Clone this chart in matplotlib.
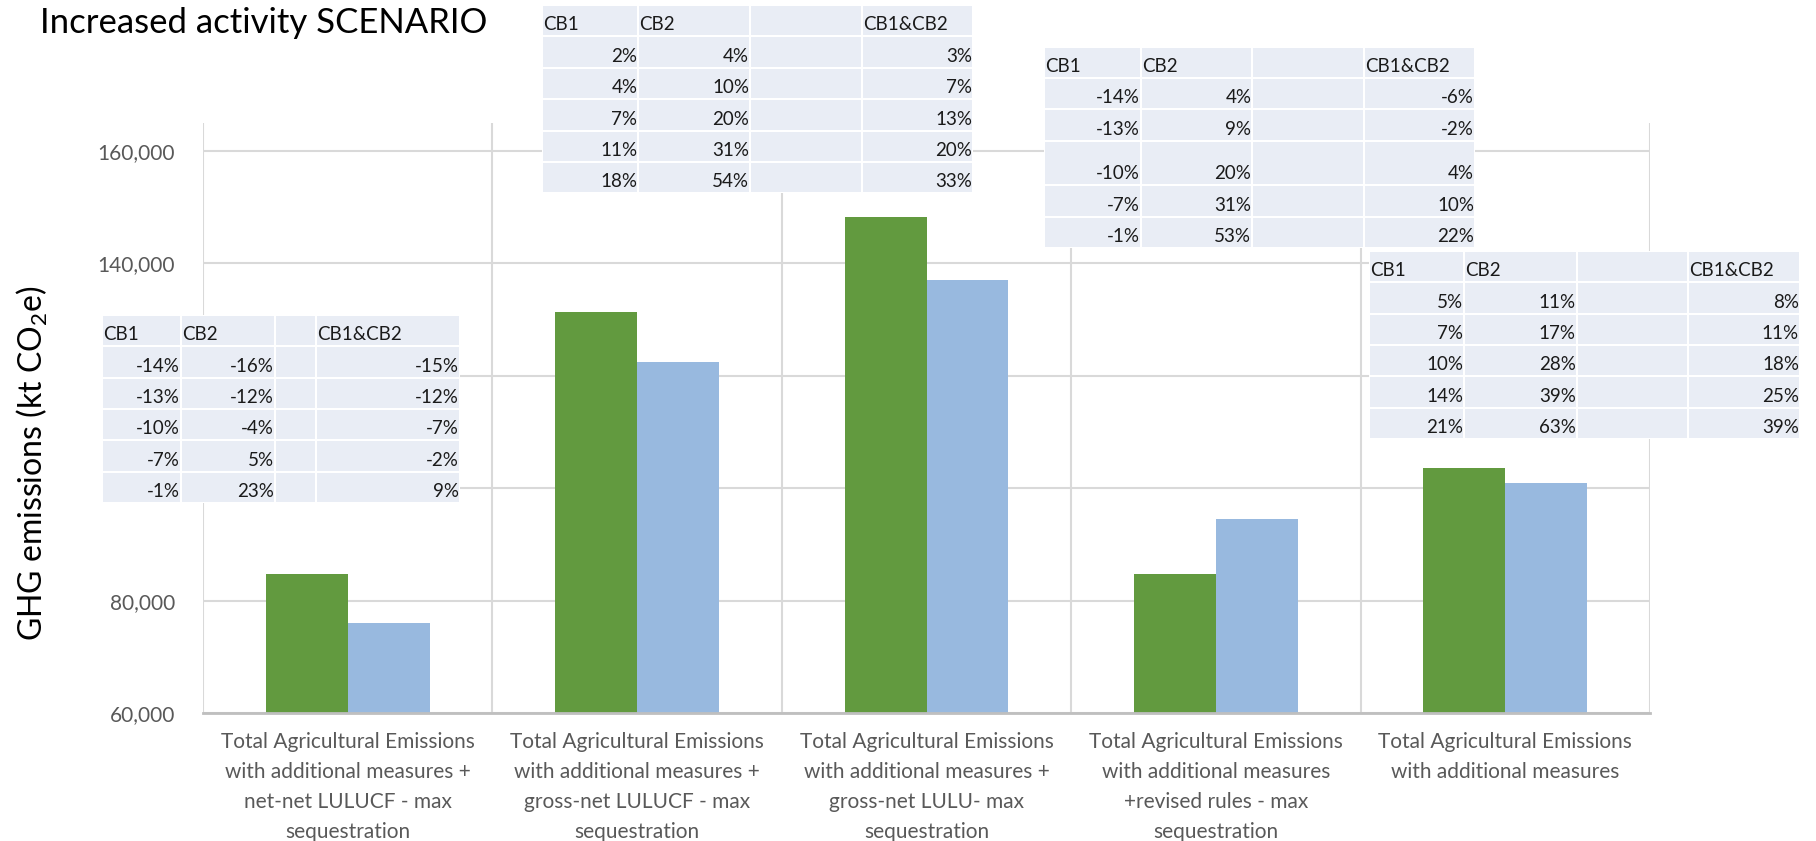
import matplotlib
matplotlib.use('Agg')
import matplotlib.pyplot as plt
from matplotlib.patches import Rectangle
import numpy as np

plt.rcParams['font.family'] = ['Lato', 'DejaVu Sans']
plt.rcParams['mathtext.fontset'] = 'custom'
plt.rcParams['mathtext.rm'] = 'Lato'
plt.rcParams['mathtext.default'] = 'regular'

# bar data (kt CO2e)
categories = [
    'Total Agricultural Emissions\nwith additional measures +\nnet-net LULUCF - max\nsequestration',
    'Total Agricultural Emissions\nwith additional measures +\ngross-net LULUCF - max\nsequestration',
    'Total Agricultural Emissions\nwith additional measures +\ngross-net LULU- max\nsequestration',
    'Total Agricultural Emissions\nwith additional measures\n+revised rules - max\nsequestration',
    'Total Agricultural Emissions\nwith additional measures',
]
green_values = [84800, 131300, 148200, 84800, 103600]
blue_values = [76100, 122450, 137050, 94600, 100900]
y_ticks = [60000, 80000, 100000, 120000, 140000, 160000]
# 100,000 and 120,000 sit behind the pasted table in the original
hidden_ticks = [100000, 120000]

# percentage tables (CB1, CB2, CB1&CB2)
table_header = ['CB1', 'CB2', '', 'CB1&CB2']
t1_cb1 = [-14, -13, -10, -7, -1]
t1_cb2 = [-16, -12, -4, 5, 23]
t1_both = [-15, -12, -7, -2, 9]
t2_cb1 = [2, 4, 7, 11, 18]
t2_cb2 = [4, 10, 20, 31, 54]
t2_both = [3, 7, 13, 20, 33]
t3_cb1 = [-14, -13, -10, -7, -1]
t3_cb2 = [4, 9, 20, 31, 53]
t3_both = [-6, -2, 4, 10, 22]
t4_cb1 = [5, 7, 10, 14, 21]
t4_cb2 = [11, 17, 28, 39, 63]
t4_both = [8, 11, 18, 25, 39]

W, H = 1816, 841
fig = plt.figure(figsize=(W / 100, H / 100), dpi=100)

# main chart area in pixel terms
left, right, top, bottom = 203, 1650, 123, 713
ax = fig.add_axes([left / W, 1 - bottom / H, (right - left) / W, (bottom - top) / H])

x = np.arange(len(categories))
bw = 0.283
ax.bar(x - bw / 2, np.array(green_values) - 60000, bw, bottom=60000, color='#629A3F', zorder=3)
ax.bar(x + bw / 2, np.array(blue_values) - 60000, bw, bottom=60000, color='#98B9DF', zorder=3)

ax.set_xlim(-0.5, len(categories) - 0.5)
ax.set_ylim(60000, 165000)
ax.set_yticks(y_ticks)
ax.set_yticklabels(['' if v in hidden_ticks else '{:,}'.format(v) for v in y_ticks])
ax.set_xticks(x)
ax.set_xticklabels(categories, linespacing=1.62)
ax.set_xticks(np.arange(-0.5, len(categories)), minor=True)
ax.tick_params(axis='both', which='both', length=0)
ax.tick_params(axis='y', labelsize=15, labelcolor='#595959', pad=20)
ax.tick_params(axis='x', labelsize=15, labelcolor='#595959', pad=14)
ax.grid(axis='y', which='major', color='#D9D9D9', lw=1.5, zorder=0)
ax.grid(axis='x', which='minor', color='#D9D9D9', lw=1.5, zorder=0)
for s in ['left', 'right', 'top']:
    ax.spines[s].set_visible(False)
ax.spines['bottom'].set_color('#BFBFBF')
ax.spines['bottom'].set_linewidth(2)
ax.spines['bottom'].set_zorder(4)

ax.set_ylabel('GHG emissions (kt CO$_2$e)', fontsize=23, color='black')
ax.yaxis.set_label_coords((50 - left) / (right - left), (bottom - 463) / (bottom - top))

fig.text(40 / W, 1 - 23 / H, 'Increased activity SCENARIO', fontsize=25,
         ha='left', va='center', color='black')

# overlay for the pasted tables
ov = fig.add_axes([0, 0, 1, 1], zorder=5)
ov.set_xlim(0, W)
ov.set_ylim(H, 0)
ov.axis('off')
ov.patch.set_alpha(0)


def draw_table(x0, y0, col_w, row_h, cb1, cb2, both):
    rows = [table_header] + [['{}%'.format(a), '{}%'.format(b), '', '{}%'.format(c)]
                             for a, b, c in zip(cb1, cb2, both)]
    ov.add_patch(Rectangle((x0, y0), sum(col_w), sum(row_h), facecolor='white', edgecolor='none'))
    yy = y0
    for r, cells in enumerate(rows):
        xx = x0
        for c, txt in enumerate(cells):
            ov.add_patch(Rectangle((xx + 1, yy + 1), col_w[c] - 2, row_h[r] - 2,
                                   facecolor='#E9EDF5', edgecolor='none'))
            if txt:
                if r == 0:
                    ov.text(xx + 1, yy + row_h[r] - 6, txt, ha='left', va='baseline',
                            fontsize=13.5, color='#1A1A1A')
                else:
                    ov.text(xx + col_w[c] - 1, yy + row_h[r] - 6, txt, ha='right', va='baseline',
                            fontsize=13.5, color='#1A1A1A')
            xx += col_w[c]
        yy += row_h[r]


draw_table(101.7, 315, [79.3, 94, 40.7, 144.3], [31.3] * 6, t1_cb1, t1_cb2, t1_both)
draw_table(542.3, 5, [96, 111.7, 111.7, 111.6], [31.4] * 6, t2_cb1, t2_cb2, t2_both)
draw_table(1044.3, 47.3, [96.4, 111.6, 112, 110.7], [30.5, 31.5, 31.5, 44.5, 31.5, 31.5],
           t3_cb1, t3_cb2, t3_both)
draw_table(1369, 250.7, [95, 112.7, 111.6, 111.7], [31.4] * 6, t4_cb1, t4_cb2, t4_both)

fig.savefig('out.png', dpi=100)
